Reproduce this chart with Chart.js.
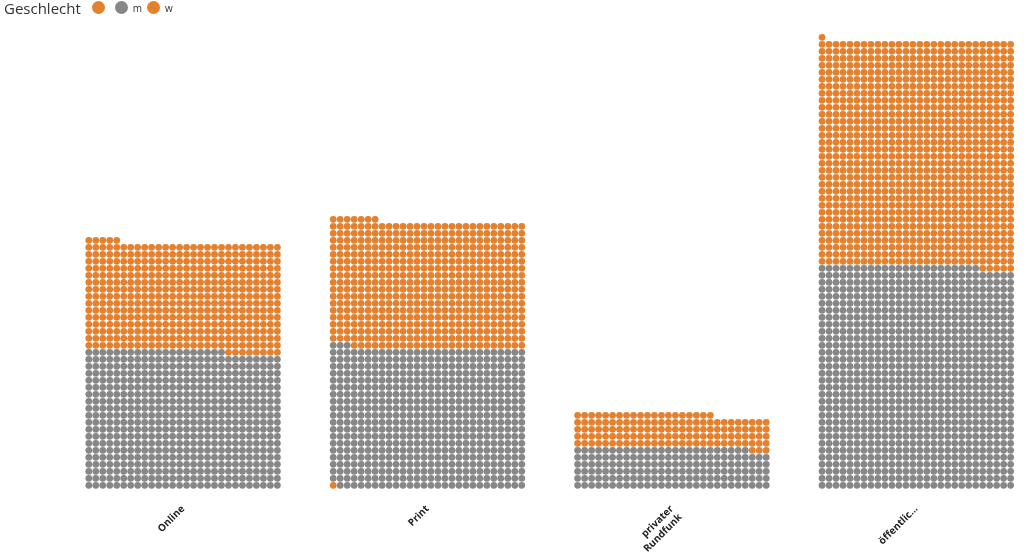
<!DOCTYPE html>
<html>
<head>
<meta charset="utf-8">
<script src="https://cdn.jsdelivr.net/npm/chart.js@4.4.1/dist/chart.umd.min.js"></script>
<style>
  html, body { margin: 0; padding: 0; background: #fff; }
  #wrap { position: relative; width: 1024px; height: 554px; }
  #legend {
    position: absolute; left: 4px; top: -1px; height: 17px;
    display: flex; align-items: center;
    font-family: 'Open Sans', sans-serif; color: #333;
  }
  #legend .title { font-size: 15px; margin-right: 11px; }
  #legend .dot { width: 13px; height: 13px; border-radius: 50%; display: inline-block; }
  #legend .lbl { font-size: 10px; margin: 0 5px; }
</style>
</head>
<body>
<div id="wrap">
  <canvas id="waffle" width="1024" height="554"></canvas>
  <div id="legend"></div>
</div>
<script>
  const categories = ['Online', 'Print', ['privater', 'Rundfunk'], 'öffentlic...'];
  const genders = ['', 'm', 'w'];
  const countBlank = [0, 1, 0, 1];
  const countM = [552, 562, 165, 891];
  const countW = [433, 508, 135, 901];
  // stacking order of the dots inside each column group (bottom first)
  const stackOrder = [
    ['m', 'w', ''],
    ['', 'm', 'w'],
    ['m', 'w', ''],
    ['m', 'w', ''],
  ];
  const colors = { '': '#e3812f', m: '#878787', w: '#e3812f' };

  const COLS = 28; // dots per row
  const STEP = 35; // distance between groups, in dot units

  // Lay the counts out as a waffle: fill rows left to right, bottom up.
  const counts = { '': countBlank, m: countM, w: countW };
  const points = { '': [], m: [], w: [] };
  categories.forEach((_, g) => {
    let i = 0;
    stackOrder[g].forEach((key) => {
      for (let n = 0; n < counts[key][g]; n++, i++) {
        points[key].push({ x: g * STEP + (i % COLS), y: Math.floor(i / COLS) });
      }
    });
  });

  const chart = new Chart(document.getElementById('waffle'), {
    type: 'scatter',
    data: {
      datasets: genders.map((key) => ({
        label: key,
        data: points[key],
        backgroundColor: colors[key],
        borderWidth: 0,
        pointRadius: 3.4,
        pointHoverRadius: 3.4,
      })),
    },
    options: {
      responsive: false,
      animation: false,
      layout: { padding: 0 },
      plugins: {
        legend: { display: false },
        tooltip: {
          callbacks: {
            label: (ctx) => `${ctx.dataset.label || '(leer)'}`,
          },
        },
      },
      scales: {
        x: {
          type: 'linear',
          min: -12.23,
          max: 133.43,
          grid: { display: false, drawTicks: false },
          border: { display: false },
          afterBuildTicks(axis) {
            axis.ticks = categories.map((_, g) => ({ value: g * STEP + (COLS - 1) / 2 }));
          },
          afterFit(axis) {
            axis.height = 64;
          },
          ticks: {
            autoSkip: false,
            minRotation: 45,
            maxRotation: 45,
            padding: 13,
            color: '#222',
            font: { family: 'Open Sans', size: 10, weight: 'bold' },
            callback: (v, i) => categories[i],
          },
        },
        y: {
          display: false,
          min: -0.667,
          max: 68.84,
        },
      },
    },
  });

  // HTML legend with the inline "Geschlecht" title
  const legend = document.getElementById('legend');
  legend.innerHTML = '<span class="title">Geschlecht</span>' +
    chart.data.datasets.map((ds) =>
      `<span class="dot" style="background:${ds.backgroundColor}"></span><span class="lbl">${ds.label}</span>`
    ).join('');
</script>
</body>
</html>
